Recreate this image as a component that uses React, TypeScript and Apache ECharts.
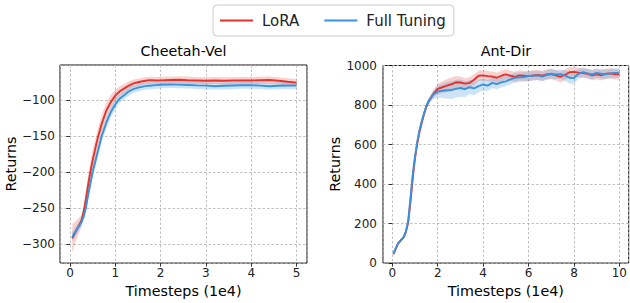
import React, { useEffect, useRef } from 'react';
import * as echarts from 'echarts';

// ---- Cheetah-Vel ----
const cheetahX = [0.05, 0.15, 0.25, 0.3, 0.35, 0.4, 0.45, 0.5, 0.55, 0.6, 0.7, 0.8, 0.9, 1.0, 1.1, 1.2, 1.3, 1.4, 1.5, 1.6, 1.7, 1.8, 1.9, 2.0, 2.2, 2.4, 2.6, 2.8, 3.0, 3.2, 3.4, 3.6, 3.8, 4.0, 4.2, 4.4, 4.6, 4.8, 5.0];
const cheetahLora = [-292, -280, -268, -256, -238, -218, -200, -184, -170, -156, -133, -115, -103, -94, -88, -84, -80, -77, -75.5, -74, -73, -72.5, -73, -72.8, -72.3, -72, -72.6, -73, -73.4, -73, -73.4, -73.1, -72.8, -73, -72.6, -72.4, -73.4, -74.8, -76];
const cheetahLoraStd = [20, 13, 8, 8, 11, 13, 14, 14, 13, 12, 12, 11, 10, 8, 7, 6, 6, 5.5, 5, 5, 5, 5, 5, 5, 5, 5, 5, 5, 5, 5, 5, 5, 5, 5, 5, 5, 5, 5, 5];
const cheetahFull = [-290, -280, -270, -262, -250, -232, -216, -200, -188, -175, -150, -132, -117, -106, -98, -93, -88, -85, -83, -81.5, -80.5, -80, -79.5, -79, -78.5, -78.8, -79.2, -79.8, -80.2, -81, -80.4, -80, -79.6, -79.5, -80.2, -81, -80.3, -80, -80];
const cheetahFullStd = [7, 6, 6, 6, 7, 8, 8, 8, 8, 8, 8, 8, 7, 7, 6, 6, 6, 5.5, 5.5, 5, 5, 5, 5, 5, 5, 5, 5, 5, 5, 5, 5, 5, 5, 5, 5, 5, 5, 5, 5];

// ---- Ant-Dir ----
const antX = [0.05, 0.25, 0.5, 0.6, 0.7, 0.8, 0.9, 1.0, 1.1, 1.2, 1.3, 1.4, 1.5, 1.6, 1.8,
  2.0, 2.2, 2.4, 2.6, 2.8, 3.0, 3.2, 3.4, 3.6, 3.8, 4.0, 4.2, 4.4, 4.6, 4.8, 5.0, 5.2, 5.4, 5.6, 5.8,
  6.0, 6.2, 6.4, 6.6, 6.8, 7.0, 7.2, 7.4, 7.6, 7.8, 8.0, 8.2, 8.4, 8.6, 8.8, 9.0, 9.2, 9.4, 9.6, 9.8, 10.0];
const antLora = [45, 98, 130, 158, 205, 310, 430, 530, 605, 665, 712, 755, 792, 818, 855,
  882, 890, 898, 905, 915, 914, 908, 912, 928, 948, 950, 946, 944, 938, 948, 955, 948, 942, 950, 948,
  946, 950, 952, 948, 955, 957, 950, 942, 952, 966, 968, 964, 962, 958, 950, 955, 950, 958, 960, 955, 955];
const antLoraStd = [8, 8, 8, 10, 12, 14, 14, 12, 10, 10, 10, 10, 12, 14, 18,
  26, 30, 32, 34, 32, 30, 28, 28, 28, 26, 26, 26, 26, 26, 26, 26, 26, 26, 26, 26,
  26, 26, 26, 26, 26, 26, 26, 28, 28, 26, 24, 24, 24, 24, 26, 26, 26, 26, 26, 26, 26];
const antFull = [48, 100, 132, 162, 215, 330, 450, 540, 615, 675, 720, 760, 795, 820, 852,
  868, 872, 875, 876, 882, 886, 880, 890, 884, 896, 904, 898, 912, 906, 915, 920, 930, 938, 940, 942,
  946, 948, 950, 944, 952, 958, 955, 956, 950, 938, 936, 958, 966, 960, 955, 962, 958, 955, 960, 962, 962];
const antFullStd = [8, 8, 8, 10, 12, 14, 14, 12, 10, 10, 10, 10, 14, 16, 22,
  30, 36, 42, 45, 45, 44, 40, 36, 34, 32, 30, 28, 27, 26, 25, 25, 25, 25, 24, 24,
  24, 24, 24, 24, 24, 24, 24, 24, 26, 30, 30, 26, 24, 24, 24, 24, 24, 24, 24, 24, 24];

const seriesNames = ['LoRA', 'Full Tuning'];
const titles = ['Cheetah-Vel', 'Ant-Dir'];

const RED = '#e5332a';
const BLUE = '#3a92dc';
const RED_BAND = 'rgba(229,51,42,0.22)';
const BLUE_BAND = 'rgba(58,146,220,0.25)';
const FONT = 'DejaVu Sans';

function pairs(xs: number[], ys: number[]) {
  return xs.map((x, i) => [x, ys[i]]);
}

function band(xs: number[], ys: number[], sd: number[], idx: number, color: string, name: string) {
  return {
    type: 'custom',
    name,
    xAxisIndex: idx,
    yAxisIndex: idx,
    silent: true,
    z: 1,
    clip: true,
    data: xs.map((x, i) => [x, ys[i] - sd[i], ys[i] + sd[i]]),
    encode: { x: 0, y: [1, 2] },
    renderItem: (params: any, api: any) => {
      if (params.dataIndex !== 0) return null;
      const upper = xs.map((x, i) => api.coord([x, ys[i] + sd[i]]));
      const lower = xs.map((x, i) => api.coord([x, ys[i] - sd[i]])).reverse();
      return {
        type: 'polygon',
        shape: { points: upper.concat(lower) },
        style: { fill: color, stroke: 'none' },
      };
    },
  };
}

function line(xs: number[], ys: number[], idx: number, color: string, name: string) {
  return {
    type: 'line',
    name,
    xAxisIndex: idx,
    yAxisIndex: idx,
    data: pairs(xs, ys),
    showSymbol: false,
    symbol: 'none',
    color,
    lineStyle: { color, width: 1.9 },
    z: 3,
  };
}

const fmt = (v: number) => (v < 0 ? '\u2212' + Math.abs(v) : String(v));

export default function App() {
  const ref = useRef<HTMLDivElement>(null);
  useEffect(() => {
    if (!ref.current) return;
    const chart = echarts.init(ref.current, null, { renderer: 'svg' });
    const tickStyle = { show: true, length: 3.5, lineStyle: { color: '#000', width: 0.8 } };
    const splitStyle = { show: true, lineStyle: { color: '#b0b0b0', width: 0.8, type: [2.5, 2] } };
    const labelStyle = { color: '#222', fontSize: 12, fontFamily: FONT, formatter: fmt };
    const nameStyle = { color: '#000', fontSize: 14.3, fontFamily: FONT };
    const grids = [
      { left: 60, top: 65, width: 247, height: 204 },
      { left: 383, top: 65.5, width: 246, height: 203 },
    ];
    const option: any = {
      animation: false,
      backgroundColor: '#fff',
      title: [
        { text: titles[0], left: 183.5, top: 44, textAlign: 'center', padding: 0, textStyle: { color: '#000', fontSize: 14.3, fontWeight: 'normal', fontFamily: FONT } },
        { text: titles[1], left: 506, top: 44, textAlign: 'center', padding: 0, textStyle: { color: '#000', fontSize: 14.3, fontWeight: 'normal', fontFamily: FONT } },
      ],
      legend: {
        data: seriesNames,
        left: 213,
        top: 5,
        orient: 'horizontal',
        icon: 'rect',
        itemWidth: 33,
        itemHeight: 2,
        itemGap: 25,
        padding: [8, 8, 8, 7],
        borderColor: '#cccccc',
        borderWidth: 1,
        borderRadius: 4,
        backgroundColor: '#fff',
        textStyle: { color: '#222', fontSize: 15, fontFamily: FONT, padding: [0, 0, 0, 4] },
      },
      grid: grids.map((g) => ({ ...g, show: true, borderColor: '#111', borderWidth: 1, backgroundColor: 'transparent', containLabel: false })),
      xAxis: [
        {
          type: 'value', gridIndex: 0, min: -0.22, max: 5.23, splitNumber: 5,
          name: 'Timesteps (1e4)', nameLocation: 'middle', nameGap: 17, nameTextStyle: nameStyle,
          axisLine: { show: false }, axisTick: tickStyle, splitLine: splitStyle,
          axisLabel: { ...labelStyle, margin: 4, showMinLabel: false, showMaxLabel: false },
        },
        {
          type: 'value', gridIndex: 1, min: -0.41, max: 10.41, splitNumber: 5,
          name: 'Timesteps (1e4)', nameLocation: 'middle', nameGap: 17, nameTextStyle: nameStyle,
          axisLine: { show: false }, axisTick: tickStyle, splitLine: splitStyle,
          axisLabel: { ...labelStyle, margin: 4, showMinLabel: false, showMaxLabel: false },
        },
      ],
      yAxis: [
        {
          type: 'value', gridIndex: 0, min: -326.5, max: -51.5, splitNumber: 5,
          name: 'Returns', nameLocation: 'middle', nameGap: 42, nameTextStyle: nameStyle,
          axisLine: { show: false }, axisTick: tickStyle, splitLine: splitStyle,
          axisLabel: { ...labelStyle, margin: 5, showMinLabel: false, showMaxLabel: false },
        },
        {
          type: 'value', gridIndex: 1, min: 0, max: 1000, interval: 200,
          name: 'Returns', nameLocation: 'middle', nameGap: 41, nameTextStyle: nameStyle,
          axisLine: { show: false }, axisTick: tickStyle, splitLine: splitStyle,
          axisLabel: { ...labelStyle, margin: 6 },
        },
      ],
      series: [
        band(cheetahX, cheetahLora, cheetahLoraStd, 0, RED_BAND, 'band-c-lora'),
        band(cheetahX, cheetahFull, cheetahFullStd, 0, BLUE_BAND, 'band-c-full'),
        line(cheetahX, cheetahLora, 0, RED, seriesNames[0]),
        line(cheetahX, cheetahFull, 0, BLUE, seriesNames[1]),
        band(antX, antLora, antLoraStd, 1, RED_BAND, 'band-a-lora'),
        band(antX, antFull, antFullStd, 1, BLUE_BAND, 'band-a-full'),
        line(antX, antLora, 1, RED, seriesNames[0]),
        line(antX, antFull, 1, BLUE, seriesNames[1]),
      ],
    };
    chart.setOption(option);
    return () => chart.dispose();
  }, []);
  return <div ref={ref} style={{ position: 'fixed', left: 0, top: 0, width: 630, height: 303 }} />;
}
